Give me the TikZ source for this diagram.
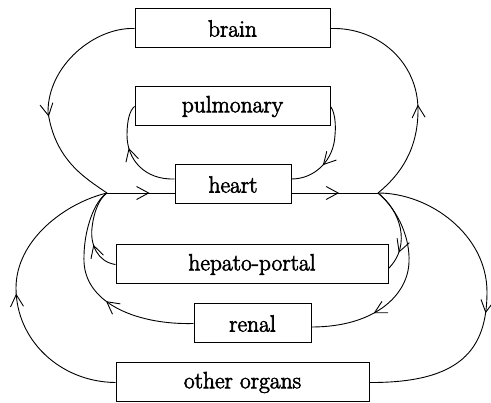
\documentclass[tikz,border=0pt]{standalone}
\usepackage{fontspec}
\newfontfamily\organfont{Latin Modern Roman}[FakeBold=2.5]
\usetikzlibrary{arrows.meta,decorations.markings,calc}
\begin{document}
\begin{tikzpicture}[x=1pt,y=-1pt,line width=0.9pt,
  organ/.style={draw,line width=1pt,minimum height=39pt,inner sep=0pt,font=\organfont\fontsize{23.5}{28}\selectfont},
  flow/.style={postaction={decorate},decoration={markings,mark=at position #1 with {\arrow{Straight Barb[length=12pt,width=13pt,line width=0.9pt]}}}}]
\useasboundingbox (0,0) rectangle (491,403);
\node[organ,minimum width=195pt] (brain) at (232.5,28.5) {brain};
\node[organ,minimum width=195pt] (pulm) at (232.5,106.5) {pulmonary};
\node[organ,minimum width=116pt] (heart) at (233,184.5) {heart};
\node[organ,minimum width=272pt] (hepato) at (252,264.5) {hepato-portal};
\node[organ,minimum width=117pt] (renal) at (252.5,323.5) {renal};
\node[organ,minimum width=253pt] (other) at (242.5,382.5) {other organs};
\coordinate (L) at (107,193);
\coordinate (R) at (378,193);
% heart line
\draw[flow=0.63] (L) -- (L -| heart.west);
\draw[flow=0.55] (heart.east |- R) -- (R);
% pulmonary
\draw[flow=0.58] ($(heart.west)+(0,-5.5)$) .. controls (145,180) and (127,160) .. (127,135) .. controls (127,120) and (130,110) .. (pulm.west);
\draw[flow=0.64] (pulm.east) .. controls (335,112) and (336,125) .. (335,135) .. controls (334,160) and (315,179) .. ($(heart.east)+(0,-5.5)$);
% brain
\draw[flow=0.44] (R) .. controls (400,175) and (418,150) .. (418,110) .. controls (418,62) and (378,27) .. (brain.east);
\draw[flow=0.58] (brain.west) .. controls (95,27) and (48,65) .. (48,112) .. controls (55,160) and (85,178) .. (L);
% other organs
\draw[flow=0.5] (other.west) .. controls (60,382) and (16,340) .. (16,288) .. controls (16,240) and (65,203) .. (L);
\draw[flow=0.55] (R) .. controls (430,193) and (487,235) .. (487,292) .. controls (487,350) and (460,383) .. (other.east);
% hepato-portal
\draw[flow=0.78] (R) .. controls (400,210) and (412,245) .. ($(hepato.east)+(0,4)$);
\draw[flow=0.36] (hepato.west) .. controls (98,262) and (90,245) .. (92,228) .. controls (94,210) and (100,198) .. (L);
% renal
\draw[flow=0.69] (R) .. controls (400,212) and (410,240) .. (409,262) .. controls (408,295) and (375,327) .. ($(renal.east)+(0,3.5)$);
\draw[flow=0.43] (renal.west) .. controls (140,325) and (86,305) .. (84,262) .. controls (83,230) and (95,200) .. (L);
\end{tikzpicture}
\end{document}
